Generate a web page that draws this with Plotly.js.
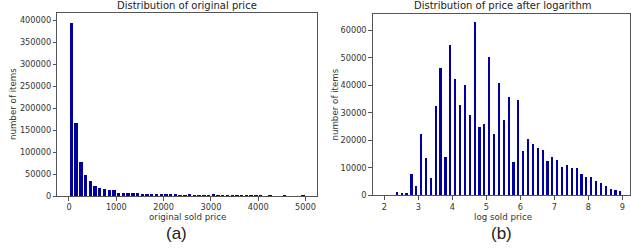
<!DOCTYPE html>
<html>
<head>
<meta charset="utf-8">
<script src="https://cdn.plot.ly/plotly-3.0.1.min.js"></script>
<style>html,body{margin:0;padding:0;background:#fff;}#chart{width:631px;height:250px;}</style>
</head>
<body>
<div id="chart"></div>
<script>
// Left: histogram of original sold price (bin centers, counts)
var priceBins = [50,150,250,350,450,550,650,750,850,950,
  1050,1150,1250,1350,1450,1550,1650,1750,1850,1950,
  2050,2150,2250,2350,2450,2550,2650,2750,2850,2950,
  3050,3150,3250,3350,3450,3550,3650,3750,3850,3950,
  4050,4150,4250,4350,4450,4550,4650,4750,4850,4950];
var priceCounts = [395000,165500,77000,48000,35000,22500,18500,17000,13000,13000,
  7500,7000,6500,6500,7500,5500,5000,4500,4500,4000,
  5000,3500,3500,3000,3000,3500,3000,2500,2500,2000,
  3500,2000,2000,1500,1500,2000,1500,1500,1200,1200,
  2000,0,1500,0,0,1500,0,0,0,1500];

// Right: histogram of log sold price (bin centers, counts)
var logBins = [2.37,2.51,2.65,2.80,2.94,3.08,3.23,3.37,3.51,3.65,
  3.80,3.94,4.08,4.23,4.37,4.51,4.66,4.80,4.94,5.08,
  5.23,5.37,5.51,5.66,5.80,5.94,6.08,6.23,6.37,6.51,
  6.66,6.80,6.94,7.09,7.23,7.37,7.51,7.66,7.80,7.94,
  8.09,8.23,8.37,8.51,8.66,8.80,8.94];
var logCounts = [1100,850,700,7600,3400,22200,13400,6300,32400,46300,
  13900,54500,42100,33000,40000,29100,63000,24700,25900,50100,
  22400,40700,27400,35800,12100,34700,16000,20500,18500,17300,
  16400,12600,14100,12700,10400,10900,9800,9800,7800,6800,
  6700,5200,4400,3400,2400,2000,1700];

var barColor = '#0000a0';
var W = 631, H = 250;
function px(x){return x/W;}
function py(y){return 1 - y/H;}

var traces = [
  {type:'bar', x: priceBins, y: priceCounts, width: 72, xaxis:'x', yaxis:'y',
   marker:{color: barColor, line:{width:0}}, hoverinfo:'x+y'},
  {type:'bar', x: logBins, y: logCounts, width: 0.065, xaxis:'x2', yaxis:'y2',
   marker:{color: barColor, line:{width:0}}, hoverinfo:'x+y'}
];

var tickFont = {family:'DejaVu Sans, sans-serif', size:8.2, color:'#333'};
var labelFont = {family:'DejaVu Sans, sans-serif', size:8.7, color:'#333'};
var common = {showgrid:false, zeroline:false, showline:true, mirror:true,
  linecolor:'#555', linewidth:1, ticks:'outside', ticklen:3.5, tickwidth:1,
  tickcolor:'#555', tickfont: tickFont, fixedrange:true};

var layout = {
  width: W, height: H,
  margin:{l:0,r:0,t:0,b:0},
  paper_bgcolor:'#fff', plot_bgcolor:'#fff',
  showlegend:false,
  bargap:0,
  xaxis: Object.assign({}, common, {domain:[px(57.3), px(316.7)], range:[-247, 5236],
    tickvals:[0,1000,2000,3000,4000,5000], ticktext:['0','1000','2000','3000','4000','5000'], anchor:'y'}),
  yaxis: Object.assign({}, common, {domain:[py(196), py(13.3)], range:[0, 416000],
    tickvals:[0,50000,100000,150000,200000,250000,300000,350000,400000],
    ticktext:['0','50000','100000','150000','200000','250000','300000','350000','400000'], anchor:'x'}),
  xaxis2: Object.assign({}, common, {domain:[px(372.7), px(630)], range:[1.659, 9.226],
    tickvals:[2,3,4,5,6,7,8,9], ticktext:['2','3','4','5','6','7','8','9'], anchor:'y2'}),
  yaxis2: Object.assign({}, common, {domain:[py(195.3), py(14)], range:[0, 65900],
    tickvals:[0,10000,20000,30000,40000,50000,60000],
    ticktext:['0','10000','20000','30000','40000','50000','60000'], anchor:'x2'}),
  annotations: [
    {text:'Distribution of original price', xref:'paper', yref:'paper', x:px(187), y:py(5.5),
     xanchor:'center', yanchor:'middle', showarrow:false,
     font:{family:'DejaVu Sans, sans-serif', size:10, color:'#222'}},
    {text:'Distribution of price after logarithm', xref:'paper', yref:'paper', x:px(503), y:py(5.5),
     xanchor:'center', yanchor:'middle', showarrow:false,
     font:{family:'DejaVu Sans, sans-serif', size:10, color:'#222'}},
    {text:'original sold price', xref:'paper', yref:'paper', x:px(187), y:py(216.5),
     xanchor:'center', yanchor:'middle', showarrow:false, font: labelFont},
    {text:'log sold price', xref:'paper', yref:'paper', x:px(503), y:py(216.5),
     xanchor:'center', yanchor:'middle', showarrow:false, font: labelFont},
    {text:'number of items', xref:'paper', yref:'paper', x:px(12.5), y:py(104.6),
     xanchor:'center', yanchor:'middle', showarrow:false, textangle:-90, font: labelFont},
    {text:'number of items', xref:'paper', yref:'paper', x:px(335), y:py(104.6),
     xanchor:'center', yanchor:'middle', showarrow:false, textangle:-90, font: labelFont},
    {text:'(a)', xref:'paper', yref:'paper', x:px(176.7), y:py(233),
     xanchor:'center', yanchor:'middle', showarrow:false,
     font:{family:'Liberation Sans, sans-serif', size:17, color:'#222'}},
    {text:'(b)', xref:'paper', yref:'paper', x:px(501), y:py(233),
     xanchor:'center', yanchor:'middle', showarrow:false,
     font:{family:'Liberation Sans, sans-serif', size:17, color:'#222'}}
  ]
};

Plotly.newPlot('chart', traces, layout, {displayModeBar:false, staticPlot:true});
</script>
</body>
</html>
